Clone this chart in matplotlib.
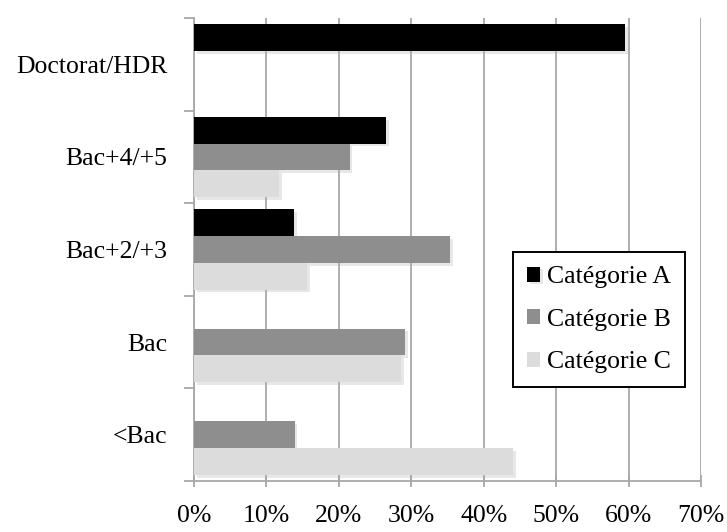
import numpy as np
import matplotlib.pyplot as plt
import matplotlib.patheffects as pe
from matplotlib.ticker import FixedLocator

plt.rcParams['font.family'] = ['Liberation Serif', 'DejaVu Serif']

# Niveaux de diplôme (du haut vers le bas) et parts par catégorie (%)
niveaux = ["Doctorat/HDR", "Bac+4/+5", "Bac+2/+3", "Bac", "<Bac"]
cat_a = [59.5, 26.5, 13.8, 0, 0]
cat_b = [0, 21.5, 35.4, 29.1, 13.9]
cat_c = [0, 11.7, 15.6, 28.6, 44.1]
series = ["Catégorie A", "Catégorie B", "Catégorie C"]
couleurs = ["#000000", "#8e8e8e", "#dcdcdc"]
graduations = [0, 10, 20, 30, 40, 50, 60, 70]

fig = plt.figure(figsize=(7.27, 5.32), dpi=100)
ax = fig.add_axes([194 / 727, 1 - 481 / 532, 507 / 727, 463 / 532])

y = np.arange(len(niveaux))
h = 0.289
ombre = [pe.SimplePatchShadow(offset=(2, -2), shadow_rgbFace="#b0b0b0", alpha=0.3), pe.Normal()]
for k, (vals, nom, coul) in enumerate(zip([cat_a, cat_b, cat_c], series, couleurs)):
    bars = ax.barh(y + (k - 1) * h, vals, height=h, color=coul, label=nom, zorder=3, linewidth=0)
    for b in bars:
        if b.get_width() > 0:
            b.set_path_effects(ombre)

ax.set_ylim(len(niveaux) - 0.5, -0.5)
ax.set_xlim(0, 70)

# grille verticale
ax.set_xticks(graduations)
ax.set_xticklabels([f"{g}%" for g in graduations], fontsize=18.5)
ax.xaxis.grid(True, color="#a8a8a8", linewidth=1.3, zorder=0)
ax.set_axisbelow(True)

# libellés au centre, petites marques aux séparations
ax.set_yticks(y)
ax.set_yticklabels(niveaux, fontsize=18.5)
ax.yaxis.set_minor_locator(FixedLocator(np.arange(-0.5, len(niveaux), 1.0)))
ax.tick_params(axis="y", which="major", length=0, pad=19)
ax.tick_params(axis="y", which="minor", length=7, width=1.3, color="#a8a8a8", direction="out")
ax.tick_params(axis="x", which="major", length=9, width=1.3, color="#a8a8a8", direction="inout", pad=13)

for side in ["top", "right"]:
    ax.spines[side].set_visible(False)
for side in ["left", "bottom"]:
    ax.spines[side].set_color("#a8a8a8")
    ax.spines[side].set_linewidth(1.3)

leg = ax.legend(loc="upper left", bbox_to_anchor=(513 / 727, 1 - 252 / 532),
                bbox_transform=fig.transFigure, fontsize=18.5, frameon=True,
                fancybox=False, framealpha=1, edgecolor="black",
                handlelength=0.52, handleheight=0.52, handletextpad=0.25,
                labelspacing=0.8, borderpad=0.55, borderaxespad=0)
leg.get_frame().set_linewidth(1.4)

plt.savefig("out.png", dpi=100)
